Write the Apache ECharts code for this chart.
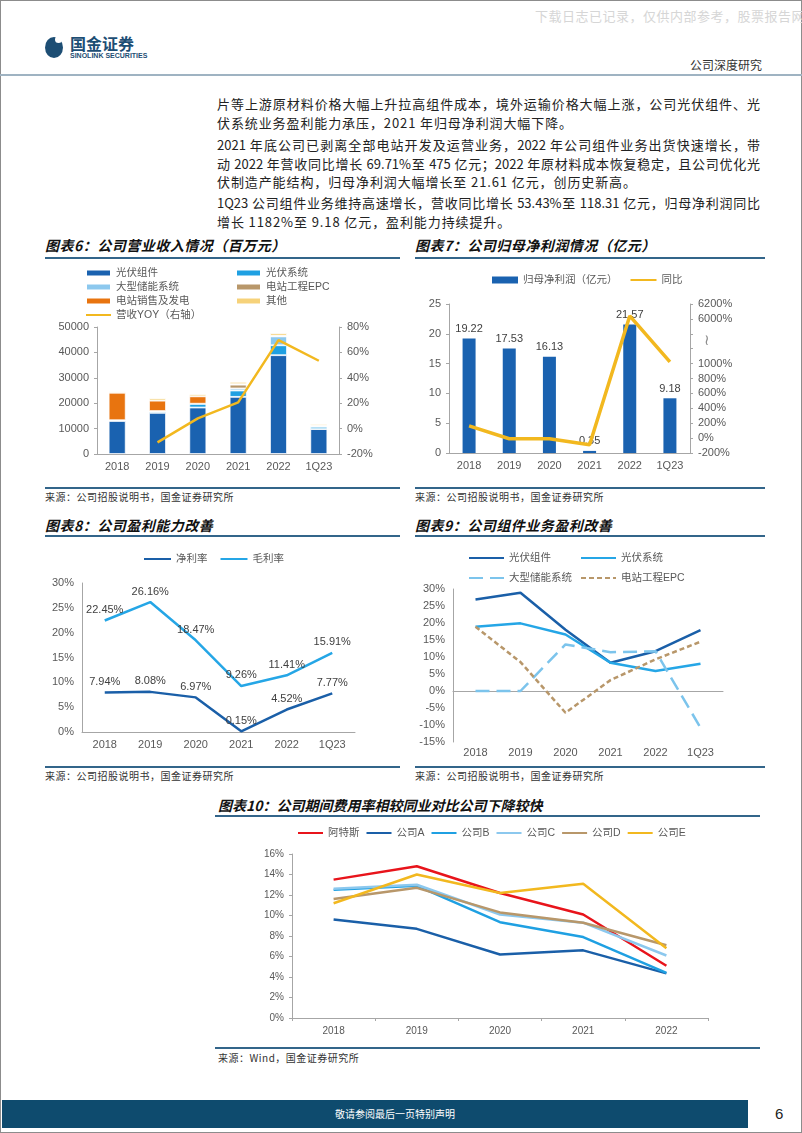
<!DOCTYPE html>
<html><head><meta charset="utf-8">
<script src="https://cdn.jsdelivr.net/npm/echarts@6/dist/echarts.min.js"></script>
<style>
html,body{margin:0;padding:0;background:#fff;}
#page{position:relative;width:802px;height:1133px;overflow:hidden;font-family:"Noto Sans CJK SC","Liberation Sans",sans-serif;box-shadow:inset 0 0 0 1px #8c8c8c;}
.abs{position:absolute;white-space:nowrap;}
.line{position:absolute;left:217px;width:543px;height:19px;line-height:19px;font-size:13px;color:#222;}
.j{text-align:justify;text-align-last:justify;}
.l{letter-spacing:0.9px;white-space:nowrap;}
.ttl{position:absolute;font-size:14px;font-weight:bold;font-style:italic;color:#111;line-height:20px;white-space:nowrap;letter-spacing:0.5px;}
.rule{position:absolute;height:1.5px;background:#33658a;}
.src{position:absolute;font-size:10px;color:#333;line-height:14px;white-space:nowrap;letter-spacing:0.5px;}
.chart{position:absolute;}
</style></head>
<body>
<div id="page">
  <div class="abs" style="left:535px;top:6px;font-size:13px;color:#d6d6d6;letter-spacing:0.5px;">下载日志已记录，仅供内部参考，股票报告网</div>
  <div class="abs" style="left:45px;top:37px;width:18px;height:21px;border-radius:50%;background:#1d4e74;"></div>
  <div class="abs" style="left:55px;top:36px;width:7px;height:7px;border-radius:50%;background:#fff;"></div>
  <div class="abs" style="left:70px;top:34px;font-size:16px;font-weight:bold;color:#1d4e74;line-height:18px;">国金证券</div>
  <div class="abs" style="left:70px;top:51px;font-size:7px;font-weight:bold;color:#1d4e74;line-height:9px;font-family:'Liberation Sans',sans-serif;">SINOLINK SECURITIES</div>
  <div class="abs" style="left:690px;top:57px;font-size:12px;color:#333;line-height:16px;">公司深度研究</div>
  <div class="abs" style="left:0;top:74px;width:802px;height:2px;background:#9fb3c2;"></div>

  <div class="line j" style="top:94px;">片等上游原材料价格大幅上升拉高组件成本，境外运输价格大幅上涨，公司光伏组件、光</div>
  <div class="line l" style="top:113px;">伏系统业务盈利能力承压，2021 年归母净利润大幅下降。</div>
  <div class="line j" style="top:135px;">2021 年底公司已剥离全部电站开发及运营业务，2022 年公司组件业务出货快速增长，带</div>
  <div class="line j" style="top:154px;">动 2022 年营收同比增长 69.71%至 475 亿元；2022 年原材料成本恢复稳定，且公司优化光</div>
  <div class="line l" style="top:172px;">伏制造产能结构，归母净利润大幅增长至 21.61 亿元，创历史新高。</div>
  <div class="line j" style="top:193px;">1Q23 公司组件业务维持高速增长，营收同比增长 53.43%至 118.31 亿元，归母净利润同比</div>
  <div class="line l" style="top:212px;">增长 1182%至 9.18 亿元，盈利能力持续提升。</div>

  <div class="ttl" style="left:45px;top:235px;">图表6：公司营业收入情况（百万元）</div>
  <div class="rule" style="left:45px;top:257px;width:355px;"></div>
  <div class="ttl" style="left:415px;top:235px;">图表7：公司归母净利润情况（亿元）</div>
  <div class="rule" style="left:415px;top:257px;width:350px;"></div>
  <div class="rule" style="left:45px;top:487px;width:355px;"></div>
  <div class="rule" style="left:415px;top:487px;width:350px;"></div>
  <div class="src" style="left:45px;top:490px;">来源：公司招股说明书，国金证券研究所</div>
  <div class="src" style="left:415px;top:490px;">来源：公司招股说明书，国金证券研究所</div>

  <div class="ttl" style="left:45px;top:515px;">图表8：公司盈利能力改善</div>
  <div class="rule" style="left:45px;top:535px;width:355px;"></div>
  <div class="ttl" style="left:415px;top:515px;">图表9：公司组件业务盈利改善</div>
  <div class="rule" style="left:415px;top:535px;width:350px;"></div>
  <div class="rule" style="left:45px;top:766px;width:355px;"></div>
  <div class="rule" style="left:415px;top:766px;width:350px;"></div>
  <div class="src" style="left:45px;top:769px;">来源：公司招股说明书，国金证券研究所</div>
  <div class="src" style="left:415px;top:769px;">来源：公司招股说明书，国金证券研究所</div>

  <div class="ttl" style="left:218px;top:795px;letter-spacing:0px;">图表10：公司期间费用率相较同业对比公司下降较快</div>
  <div class="rule" style="left:215px;top:815px;width:545px;"></div>
  <div class="rule" style="left:215px;top:1047px;width:545px;"></div>
  <div class="src" style="left:218px;top:1051px;">来源：Wind，国金证券研究所</div>

  <div class="abs" style="left:2px;top:1100px;width:746px;height:28px;background:#0e4b6e;"></div>
  <div class="abs" style="left:0;top:1107px;width:790px;text-align:center;font-size:10px;color:#fff;line-height:14px;">敬请参阅最后一页特别声明</div>
  <div class="abs" style="left:775px;top:1104px;font-size:15px;color:#222;line-height:20px;font-family:'Liberation Sans',sans-serif;">6</div>

  <div id="c6" class="chart" style="left:40px;top:262px;width:370px;height:220px;"></div>
  <div id="c7" class="chart" style="left:410px;top:262px;width:392px;height:220px;"></div>
  <div id="c8" class="chart" style="left:40px;top:540px;width:370px;height:220px;"></div>
  <div id="c9" class="chart" style="left:410px;top:540px;width:392px;height:220px;"></div>
  <div id="c10" class="chart" style="left:210px;top:820px;width:550px;height:225px;"></div>
</div>
<script>
// ---------- data ----------
const years = ['2018','2019','2020','2021','2022','1Q23'];
// chart 6: revenue by segment (million yuan)
const rev_module  = [13000,16200,18300,22500,38900,9800];
const rev_system  = [300,700,1500,2500,3900,900];
const rev_storage = [0,0,0,800,3500,400];
const rev_epc     = [0,0,0,1500,300,100];
const rev_station = [10800,4100,2900,200,0,0];
const rev_other   = [500,900,800,900,1000,630];
const rev_yoy     = [null,-10.8,8.0,20.6,69.71,53.43];
// chart 7: net profit (100m yuan) and yoy (%)
const np_values = [19.22,17.53,16.13,0.35,21.57,9.18];
const np_yoy    = [165,-9,-8,-90,6040,1182];
const np_yoy_ticks = ['-200%','0%','200%','400%','600%','800%','1000%','','','6000%','6200%'];
// chart 8: margins (%)
const net_margin   = [7.94,8.08,6.97,0.15,4.52,7.77];
const gross_margin = [22.45,26.16,18.47,9.26,11.41,15.91];
// chart 9: segment gross margin (%)
const gm_module  = [26.9,28.9,18.0,8.3,11.7,17.9];
const gm_system  = [18.9,19.9,16.6,8.3,5.9,8.0];
const gm_storage = [0,0,13.7,11.4,11.7,-10.8];
const gm_epc     = [18.9,8.5,-6.4,3.2,9.3,14.5];
// chart 10: expense ratio vs peers (%)
const peer_years = ['2018','2019','2020','2021','2022'];
const exp_atlas = [13.5,14.8,12.2,10.1,5.1];
const exp_a = [9.6,8.7,6.2,6.6,4.35];
const exp_b = [12.5,12.9,9.35,7.9,4.4];
const exp_c = [12.6,13.0,10.1,9.3,6.1];
const exp_d = [11.6,12.7,10.3,9.3,7.1];
const exp_e = [11.2,14.0,12.2,13.1,6.8];

// ---------- styles ----------
const FONT = '"Liberation Sans", Arial, "Noto Sans CJK SC", sans-serif';
const AX = '#a6a6a6', LBL = '#595959', DLBL = '#404040';
const C_DB = '#1a62b0', C_B = '#1fa0e2', C_LB = '#8cc8ee', C_TAN = '#b8976a', C_OR = '#e8740f', C_Y = '#f2b81f', C_YL = '#f6d27a', C_RED = '#e8141b';
const NOSYM = {opacity:0};

function catAxis(data, extra){
  return Object.assign({type:'category', data:data, axisLine:{lineStyle:{color:AX}}, axisTick:{show:false},
    axisLabel:{color:LBL, fontSize:11, margin:7}}, extra||{});
}
function valAxis(extra){
  return Object.assign({type:'value', splitLine:{show:false}, axisLine:{show:true, lineStyle:{color:AX}},
    axisTick:{show:false}, axisLabel:{color:LBL, fontSize:11}}, extra||{});
}

// ---------- chart 6 ----------
(function(){
  const c = echarts.init(document.getElementById('c6'));
  const leg = {orient:'vertical', top:4, padding:0, itemWidth:25, itemHeight:7, itemGap:0,
    textStyle:{fontSize:10.5, color:LBL, lineHeight:14}};
  const bar = (name, data, color) => ({name:name, type:'bar', stack:'rev', barWidth:17, data:data,
    itemStyle:{color:color, borderColor:'#fff', borderWidth:0.8}});
  c.setOption({
    animation:false, textStyle:{fontFamily:FONT},
    legend:[
      Object.assign({left:45, data:[{name:'光伏组件',icon:'rect'},{name:'大型储能系统',icon:'rect'},{name:'电站销售及发电',icon:'rect'},{name:'营收YOY（右轴）', itemStyle:NOSYM}]}, leg),
      Object.assign({left:195, data:[{name:'光伏系统',icon:'rect'},{name:'电站工程EPC',icon:'rect'},{name:'其他',icon:'rect'}]}, leg)
    ],
    grid:{left:57, right:71, top:65, bottom:28},
    xAxis:catAxis(years),
    yAxis:[
      valAxis({min:0, max:50000, interval:10000, axisTick:{show:true, length:3, lineStyle:{color:AX}},
        axisLabel:{color:LBL, fontSize:11, formatter:function(v){return String(v);}}}),
      valAxis({min:-20, max:80, interval:20, position:'right', axisTick:{show:true, length:3, lineStyle:{color:AX}},
        axisLabel:{color:LBL, fontSize:11, formatter:'{value}%'}})
    ],
    series:[
      bar('光伏组件', rev_module, C_DB),
      bar('光伏系统', rev_system, C_B),
      bar('大型储能系统', rev_storage, C_LB),
      bar('电站工程EPC', rev_epc, C_TAN),
      bar('电站销售及发电', rev_station, C_OR),
      bar('其他', rev_other, C_YL),
      {name:'营收YOY（右轴）', type:'line', yAxisIndex:1, data:rev_yoy, symbol:'none',
        lineStyle:{color:C_Y, width:2.5}, itemStyle:{color:C_Y}}
    ]
  });
})();

// ---------- chart 7 ----------
(function(){
  const c = echarts.init(document.getElementById('c7'));
  // broken right axis: -200%..1000% linear, 1000%..6000% compressed into 3 steps, 6000%..6200% linear
  function toAxis(v){
    if (v <= 1000) return (v + 200) / 200;
    if (v >= 6000) return 9 + (v - 6000) / 200;
    return 6 + (v - 1000) / 5000 * 3;
  }
  c.setOption({
    animation:false, textStyle:{fontFamily:FONT},
    legend:{left:82, top:11, padding:0, itemWidth:26, itemHeight:7, itemGap:12, textStyle:{fontSize:10.5, color:LBL, lineHeight:14},
      data:[{name:'归母净利润（亿元）', icon:'rect'}, {name:'同比', itemStyle:NOSYM}]},
    grid:{left:39, right:112, top:42, bottom:29},
    xAxis:catAxis(years),
    yAxis:[
      valAxis({min:0, max:25, interval:5, axisTick:{show:true, length:3, lineStyle:{color:AX}}}),
      valAxis({min:0, max:10, interval:1, position:'right', axisTick:{show:true, length:3, lineStyle:{color:AX}},
        axisLabel:{color:LBL, fontSize:11, formatter:function(v){return np_yoy_ticks[Math.round(v)];}}})
    ],
    graphic:[{type:'text', left:294, top:71, style:{text:'≀', fontSize:15, fill:'#8c8c8c'}}],
    series:[
      {name:'归母净利润（亿元）', type:'bar', barWidth:13, data:np_values, itemStyle:{color:C_DB},
        label:{show:true, position:'top', distance:4, fontSize:11, color:DLBL}},
      {name:'同比', type:'line', yAxisIndex:1, data:np_yoy.map(toAxis), symbol:'none',
        lineStyle:{color:C_Y, width:3.5}, itemStyle:{color:C_Y}}
    ]
  });
})();

// ---------- chart 8 ----------
(function(){
  const c = echarts.init(document.getElementById('c8'));
  const lbl = {show:true, position:'top', distance:5, fontSize:11, color:DLBL, formatter:function(p){return p.value.toFixed(2)+'%';}};
  const ln = (name, data, color) => ({name:name, type:'line', data:data, symbol:'circle', symbolSize:0.1, showSymbol:true,
    lineStyle:{color:color, width:2.5}, itemStyle:{color:color}, label:lbl});
  c.setOption({
    animation:false, textStyle:{fontFamily:FONT},
    legend:{left:103, top:12, padding:0, itemWidth:27, itemHeight:8, itemGap:12, itemStyle:NOSYM,
      textStyle:{fontSize:10.5, color:LBL, lineHeight:14}, data:['净利率','毛利率']},
    grid:{left:42, right:55, top:43, bottom:28},
    xAxis:catAxis(years),
    yAxis:valAxis({min:0, max:30, interval:5, axisLabel:{color:LBL, fontSize:11, formatter:'{value}%'}}),
    series:[
      ln('净利率', net_margin, '#1a5fa8'),
      ln('毛利率', gross_margin, '#25a6e6')
    ]
  });
})();

// ---------- chart 9 ----------
(function(){
  const c = echarts.init(document.getElementById('c9'));
  const leg = {orient:'vertical', top:8, padding:0, itemWidth:35, itemHeight:8, itemGap:0, itemStyle:NOSYM,
    textStyle:{fontSize:10.5, color:LBL, lineHeight:20}};
  c.setOption({
    animation:false, textStyle:{fontFamily:FONT},
    legend:[
      Object.assign({left:58, data:['光伏组件','大型储能系统']}, leg),
      Object.assign({left:170, data:['光伏系统','电站工程EPC']}, leg)
    ],
    grid:{left:43, right:79, top:49, bottom:18},
    xAxis:catAxis(years, {axisLabel:{color:LBL, fontSize:11, margin:5}}),
    yAxis:valAxis({min:-15, max:30, interval:5, axisLabel:{color:LBL, fontSize:11, formatter:'{value}%'}}),
    series:[
      {name:'光伏组件', type:'line', data:gm_module, symbol:'none', lineStyle:{color:'#1a5fa8', width:2.5}, itemStyle:{color:'#1a5fa8'}},
      {name:'光伏系统', type:'line', data:gm_system, symbol:'none', lineStyle:{color:'#25a6e6', width:2.5}, itemStyle:{color:'#25a6e6'}},
      {name:'大型储能系统', type:'line', data:gm_storage, symbol:'none', lineStyle:{color:'#7cc4ec', width:2.5, type:[14,7]}, itemStyle:{color:'#7cc4ec'}},
      {name:'电站工程EPC', type:'line', data:gm_epc, symbol:'none', lineStyle:{color:C_TAN, width:2.5, type:[5,3]}, itemStyle:{color:C_TAN}}
    ]
  });
})();

// ---------- chart 10 ----------
(function(){
  const c = echarts.init(document.getElementById('c10'));
  const ln = (name, data, color) => ({name:name, type:'line', data:data, symbol:'none', lineStyle:{color:color, width:2.5}, itemStyle:{color:color}});
  c.setOption({
    animation:false, textStyle:{fontFamily:FONT},
    legend:{left:87, top:6, padding:0, itemWidth:25, itemHeight:8, itemGap:6, itemStyle:NOSYM,
      textStyle:{fontSize:10.5, color:LBL, lineHeight:14}, data:['阿特斯','公司A','公司B','公司C','公司D','公司E']},
    grid:{left:82, right:52, top:34, bottom:27},
    xAxis:catAxis(peer_years, {axisTick:{show:true, length:3, lineStyle:{color:AX}}, axisLabel:{color:LBL, fontSize:10, margin:8}}),
    yAxis:valAxis({min:0, max:16, interval:2, axisTick:{show:true, length:3, lineStyle:{color:AX}},
      axisLabel:{color:LBL, fontSize:10, formatter:'{value}%'}}),
    series:[
      ln('阿特斯', exp_atlas, C_RED),
      ln('公司A', exp_a, '#1a5fa8'),
      ln('公司B', exp_b, C_B),
      ln('公司C', exp_c, C_LB),
      ln('公司D', exp_d, C_TAN),
      ln('公司E', exp_e, C_Y)
    ]
  });
})();
</script>
</body></html>
